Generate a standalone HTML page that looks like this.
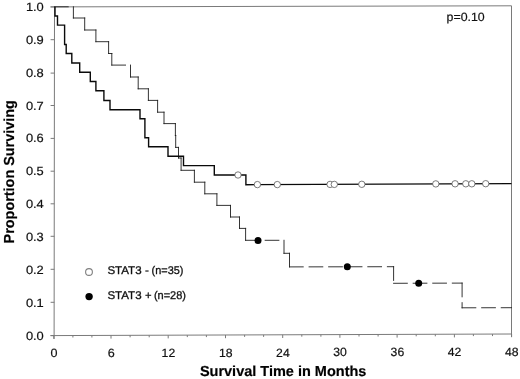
<!DOCTYPE html>
<html>
<head>
<meta charset="utf-8">
<title>Survival</title>
<style>
html,body{margin:0;padding:0;background:#fff;}
body{width:520px;height:379px;overflow:hidden;font-family:"Liberation Sans",sans-serif;}
svg{display:block;will-change:transform;}
text{font-family:"Liberation Sans",sans-serif;fill:#111;stroke:#111;stroke-width:0.2px;text-rendering:geometricPrecision;}
.tl{font-size:12px;}
.lg text{font-size:11.2px;stroke-width:0.3px;}
.b{font-weight:bold;font-size:14.5px;fill:#000;}
</style>
</head>
<body>
<svg width="520" height="379" viewBox="0 0 520 379">
<rect x="0" y="0" width="520" height="379" fill="#ffffff"/>
<!-- frame -->
<g stroke="#7a7a7a" stroke-width="1" fill="none">
<line x1="50.5" y1="6.9" x2="511.5" y2="5.8"/>
<line x1="511.5" y1="5.8" x2="511.5" y2="337"/>
<line x1="54.5" y1="6.9" x2="54.1" y2="339"/>
<line x1="50.5" y1="335.6" x2="511.5" y2="334"/>
</g>
<!-- ticks -->
<g stroke="#7a7a7a" stroke-width="1" fill="none">
<line x1="50.6" y1="6.9" x2="54.4" y2="6.9"/>
<line x1="50.6" y1="39.7" x2="54.4" y2="39.7"/>
<line x1="50.6" y1="73.1" x2="54.4" y2="73.1"/>
<line x1="50.6" y1="105.5" x2="54.4" y2="105.5"/>
<line x1="50.6" y1="138.4" x2="54.4" y2="138.4"/>
<line x1="50.6" y1="171.2" x2="54.4" y2="171.2"/>
<line x1="50.6" y1="203.8" x2="54.4" y2="203.8"/>
<line x1="50.6" y1="236.3" x2="54.4" y2="236.3"/>
<line x1="50.6" y1="269.3" x2="54.4" y2="269.3"/>
<line x1="50.6" y1="302.3" x2="54.4" y2="302.3"/>
<line x1="50.6" y1="335.6" x2="54.4" y2="335.6"/>
<line x1="53.8" y1="335.6" x2="53.8" y2="338.8"/>
<line x1="72.9" y1="335.5" x2="72.9" y2="337.5"/>
<line x1="91.9" y1="335.5" x2="91.9" y2="337.5"/>
<line x1="111.0" y1="335.4" x2="111.0" y2="338.6"/>
<line x1="130.1" y1="335.3" x2="130.1" y2="337.3"/>
<line x1="149.2" y1="335.3" x2="149.2" y2="337.3"/>
<line x1="168.2" y1="335.2" x2="168.2" y2="338.4"/>
<line x1="187.3" y1="335.1" x2="187.3" y2="337.1"/>
<line x1="206.4" y1="335.1" x2="206.4" y2="337.1"/>
<line x1="225.5" y1="335.0" x2="225.5" y2="338.2"/>
<line x1="244.6" y1="334.9" x2="244.6" y2="336.9"/>
<line x1="263.6" y1="334.9" x2="263.6" y2="336.9"/>
<line x1="282.7" y1="334.8" x2="282.7" y2="338.0"/>
<line x1="301.8" y1="334.7" x2="301.8" y2="336.7"/>
<line x1="320.9" y1="334.7" x2="320.9" y2="336.7"/>
<line x1="339.9" y1="334.6" x2="339.9" y2="337.8"/>
<line x1="359.0" y1="334.5" x2="359.0" y2="336.5"/>
<line x1="378.1" y1="334.5" x2="378.1" y2="336.5"/>
<line x1="397.1" y1="334.4" x2="397.1" y2="337.6"/>
<line x1="416.2" y1="334.3" x2="416.2" y2="336.3"/>
<line x1="435.3" y1="334.3" x2="435.3" y2="336.3"/>
<line x1="454.4" y1="334.2" x2="454.4" y2="337.4"/>
<line x1="473.4" y1="334.1" x2="473.4" y2="336.1"/>
<line x1="492.5" y1="334.1" x2="492.5" y2="336.1"/>
<line x1="511.6" y1="334.0" x2="511.6" y2="337.2"/>
</g>
<!-- thin curve -->
<path id="thin" fill="none" stroke="#1e1e1e" stroke-width="0.9" stroke-linecap="square" stroke-dasharray="13.7 5.88" d="M54.5,6.8 L73.4,6.8 M73.4,6.8 L73.4,18 M73.4,18 L84.7,18 M84.7,18 L84.7,30 M84.7,30 L95.9,30 M95.9,30 L95.9,41.7 M95.9,41.7 L108.6,41.7 M108.6,41.7 L108.6,53.5 M108.6,53.5 L111.8,53.5 M111.8,53.5 L111.8,65.1 M111.8,65.1 L130.5,65.1 M130.5,65.1 L130.5,77 M130.5,77 L138.2,77 M138.2,77 L138.2,88.8 M138.2,88.8 L148.4,88.8 M148.4,88.8 L148.4,100.4 M148.4,100.4 L157.6,100.4 M157.6,100.4 L157.6,112.2 M157.6,112.2 L164,112.2 M164,112.2 L164,123.6 M164,123.6 L175.4,123.6 M175.4,123.6 L175.4,135.5 M175.4,135.5 L175.7,135.5 M175.7,135.5 L175.7,147.4 M175.7,147.4 L178.5,147.4 M178.5,147.4 L178.5,158 M178.5,158 L181.1,158 M181.1,158 L181.1,170.3 M181.1,170.3 L194.4,170.3 M194.4,170.3 L194.4,182.2 M194.4,182.2 L204.8,182.2 M204.8,182.2 L204.8,193.8 M204.8,193.8 L216.9,193.8 M216.9,193.8 L216.9,205.4 M216.9,205.4 L230.5,205.4 M230.5,205.4 L230.5,217 M230.5,217 L239.5,217 M239.5,217 L239.5,228.4 M239.5,228.4 L245.6,228.4 M245.6,228.4 L245.6,240.3 M245.6,240.3 L284,240.3 M284,240.3 L284,253.3 M284,253.3 L289.5,253.3 M289.5,253.3 L289.5,266.9 M289.5,266.9 L393.6,266.7 M393.6,266.7 L393.6,283.3 M393.6,283.3 L462.1,283.1 M462.1,283.1 L462.1,307.8 M462.1,307.8 L511.5,307.7"/>
<!-- thick curve -->
<path id="thick" fill="none" stroke="#0a0a0a" stroke-width="1.4" stroke-linejoin="miter" d="M55,6.8 V16 H57.5 V25.1 H64.6 V44.5 H66.2 V53.5 H71.8 V63 H79.7 V72.3 H90.3 V81.5 H95.9 V90.8 H103.9 V100.5 H110 V109.7 H140 V118.7 H144.9 V137.8 H148.6 V146.8 H168 V156.2 H183.5 V165.6 H214.3 V175 H245.9 V184.7 L511.5,183.6"/>
<!-- open circles -->
<g fill="#fff" stroke="#5a5a5a" stroke-width="0.8">
<circle cx="238" cy="175" r="3.2"/>
<circle cx="257.4" cy="184.6" r="3.2"/>
<circle cx="277.3" cy="184.6" r="3.2"/>
<circle cx="330.1" cy="184.4" r="3.2"/>
<circle cx="334.3" cy="184.4" r="3.2"/>
<circle cx="361.8" cy="184.3" r="3.2"/>
<circle cx="435.8" cy="183.9" r="3.2"/>
<circle cx="455.1" cy="183.8" r="3.2"/>
<circle cx="465.8" cy="183.8" r="3.2"/>
<circle cx="471.8" cy="183.8" r="3.2"/>
<circle cx="485.7" cy="183.7" r="3.2"/>
<circle cx="89" cy="272" r="3.4" stroke="#808080" stroke-width="1.1"/>
</g>
<!-- filled circles -->
<g fill="#000">
<circle cx="258" cy="240.5" r="3.5"/>
<circle cx="347.3" cy="266.8" r="3.5"/>
<circle cx="418.7" cy="283.2" r="3.5"/>
<circle cx="89.1" cy="296.6" r="3.7"/>
</g>
<!-- y labels -->
<g class="tl" text-anchor="end">
<text x="43.8" y="10.6" textLength="17.9" lengthAdjust="spacingAndGlyphs">1.0</text>
<text x="43.8" y="44.0" textLength="17.9" lengthAdjust="spacingAndGlyphs">0.9</text>
<text x="43.8" y="77.4" textLength="17.9" lengthAdjust="spacingAndGlyphs">0.8</text>
<text x="43.8" y="109.8" textLength="17.9" lengthAdjust="spacingAndGlyphs">0.7</text>
<text x="43.8" y="142" textLength="17.9" lengthAdjust="spacingAndGlyphs">0.6</text>
<text x="43.8" y="175" textLength="17.9" lengthAdjust="spacingAndGlyphs">0.5</text>
<text x="43.8" y="208.1" textLength="17.9" lengthAdjust="spacingAndGlyphs">0.4</text>
<text x="43.8" y="240.6" textLength="17.9" lengthAdjust="spacingAndGlyphs">0.3</text>
<text x="43.8" y="273.6" textLength="17.9" lengthAdjust="spacingAndGlyphs">0.2</text>
<text x="43.8" y="306.6" textLength="17.9" lengthAdjust="spacingAndGlyphs">0.1</text>
<text x="43.8" y="339.9" textLength="17.9" lengthAdjust="spacingAndGlyphs">0.0</text>
</g>
<g class="tl" text-anchor="middle">
<text x="54.0" y="357" textLength="7" lengthAdjust="spacingAndGlyphs">0</text>
<text x="111.2" y="357" textLength="7" lengthAdjust="spacingAndGlyphs">6</text>
<text x="168.4" y="357" textLength="13.6" lengthAdjust="spacingAndGlyphs">12</text>
<text x="225.7" y="357" textLength="13.6" lengthAdjust="spacingAndGlyphs">18</text>
<text x="282.9" y="357" textLength="13.6" lengthAdjust="spacingAndGlyphs">24</text>
<text x="340.1" y="356" textLength="13.6" lengthAdjust="spacingAndGlyphs">30</text>
<text x="397.4" y="356" textLength="13.6" lengthAdjust="spacingAndGlyphs">36</text>
<text x="454.6" y="356" textLength="13.6" lengthAdjust="spacingAndGlyphs">42</text>
<text x="511.8" y="356" textLength="13.6" lengthAdjust="spacingAndGlyphs">48</text>
</g>
<g class="lg">
<text x="107.4" y="274" textLength="34.2" lengthAdjust="spacingAndGlyphs">STAT3</text>
<text x="145" y="274" textLength="3.9" lengthAdjust="spacingAndGlyphs">-</text>
<text x="151.6" y="274" textLength="31.8" lengthAdjust="spacingAndGlyphs">(n=35)</text>
<text x="107.4" y="299" textLength="34.2" lengthAdjust="spacingAndGlyphs">STAT3</text>
<text x="144.9" y="299" textLength="6.6" lengthAdjust="spacingAndGlyphs">+</text>
<text x="153.9" y="299" textLength="32.1" lengthAdjust="spacingAndGlyphs">(n=28)</text>
</g>
<text class="tl" x="446.6" y="21.2" textLength="38.1" lengthAdjust="spacingAndGlyphs" style="font-size:12px">p=0.10</text>
<text class="b" x="199.9" y="376.3" textLength="166.5" lengthAdjust="spacingAndGlyphs">Survival Time in Months</text>
<text class="b" transform="translate(13.7,243.4) rotate(-90)" textLength="143.2" lengthAdjust="spacingAndGlyphs">Proportion Surviving</text>
</svg>
</body>
</html>
